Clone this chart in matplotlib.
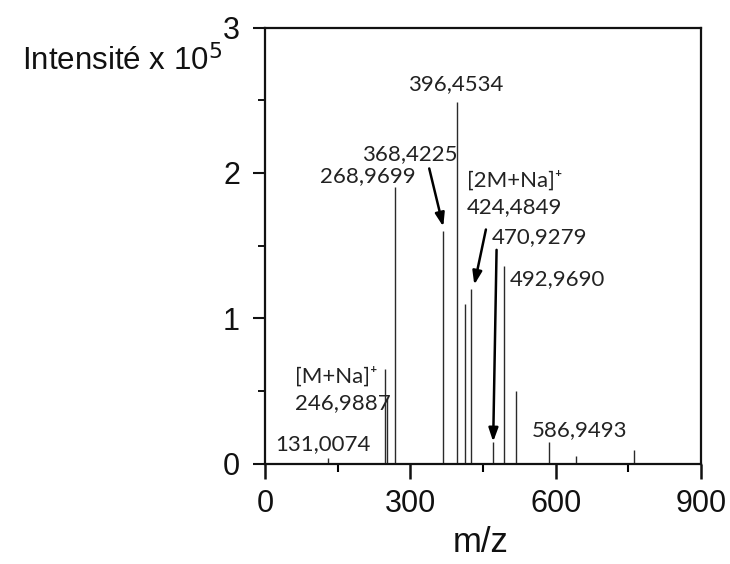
import matplotlib
matplotlib.use("Agg")
import matplotlib.pyplot as plt
from matplotlib.ticker import MultipleLocator

# Peak data (m/z, intensity x 1e5)
mz = [131.0, 247.0, 252.5, 269.0, 368.4, 396.5, 413.0, 424.5, 471.0, 493.0, 518.0, 587.0, 642.0, 761.0]
intensity = [0.04, 0.65, 0.45, 1.90, 1.60, 2.49, 1.10, 1.20, 0.15, 1.36, 0.50, 0.15, 0.05, 0.09]

# Labels: text, x, y (data coords), ha
label_texts = ["396,4534", "368,4225", "268,9699", "[2M+Na]\u207a", "424,4849",
               "470,9279", "492,9690", "[M+Na]\u207a", "246,9887", "131,0074", "586,9493"]
label_x = [393, 298.7, 212, 416, 416, 468, 506, 62, 62, 20.6, 550.6]
label_y = [2.61, 2.13, 1.98, 1.944, 1.762, 1.555, 1.27, 0.602, 0.416, 0.134, 0.227]
label_ha = ["center", "center", "center", "left", "left", "left", "left", "left", "left", "left", "left"]

# Arrows: (start x, start y) -> (end x, end y)
arrow_start = [(339, 2.03), (456, 1.61), (478, 1.47)]
arrow_end = [(368, 1.63), (432, 1.23), (471, 0.15)]

xticks = [0, 300, 600, 900]
yticks = [0, 1, 2, 3]

fig = plt.figure(figsize=(7.30, 5.64), dpi=100)
ax = fig.add_axes([265/730, 1 - 463.5/564, (701 - 265)/730, (463.5 - 27.5)/564])

ax.vlines(mz, 0, intensity, colors="#2a2a2a", linewidth=1.0)

ax.set_xlim(0, 900)
ax.set_ylim(0, 3)
ax.set_xticks(xticks)
ax.set_yticks(yticks)
ax.xaxis.set_minor_locator(MultipleLocator(150))
ax.yaxis.set_minor_locator(MultipleLocator(0.5))

for s in ax.spines.values():
    s.set_linewidth(1.6)
    s.set_color("#111")

ax.tick_params(axis="x", which="major", direction="out", length=11, width=1.8,
               labelsize=22, pad=7, colors="#111")
ax.tick_params(axis="x", which="minor", direction="out", length=6, width=1.5)
ax.tick_params(axis="y", which="major", direction="out", length=9, width=1.5,
               labelsize=22, pad=9, colors="#111")
ax.tick_params(axis="y", which="minor", direction="out", length=5, width=1.3)
for lab in ax.get_xticklabels() + ax.get_yticklabels():
    lab.set_family(["Liberation Sans", "DejaVu Sans"])

fig.text(481/730, 1 - 542/564, "m/z", ha="center", va="center",
         fontsize=25, family=["Liberation Sans", "DejaVu Sans"], color="#111")

fig.text(222/730, 1 - 61/564, "Intensité x 10$^5$", ha="right", va="center",
         fontsize=22.5, family=["Liberation Sans", "DejaVu Sans"], color="#111")

for t, x, y, ha in zip(label_texts, label_x, label_y, label_ha):
    ax.text(x, y, t, ha=ha, va="center", fontsize=16,
            family=["Lato", "DejaVu Sans"], color="#222")

for (sx, sy), (ex, ey) in zip(arrow_start, arrow_end):
    ax.annotate("", xy=(ex, ey), xytext=(sx, sy),
                arrowprops=dict(arrowstyle="-|>,head_length=0.8,head_width=0.28",
                                color="black", lw=1.8, shrinkA=0, shrinkB=0))

fig.savefig("out.png", dpi=100)
